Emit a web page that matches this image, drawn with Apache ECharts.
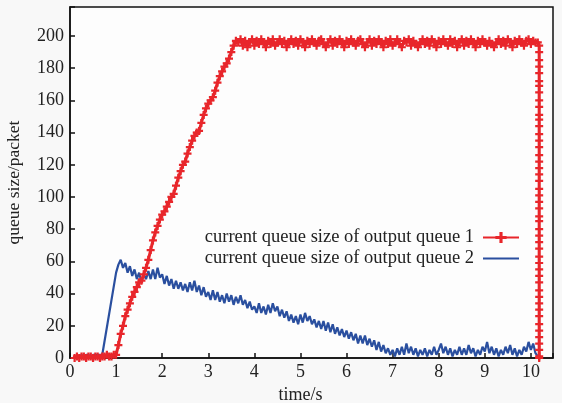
<!DOCTYPE html>
<html>
<head>
<meta charset="utf-8">
<script src="https://cdn.jsdelivr.net/npm/echarts@6/dist/echarts.min.js"></script>
<style>
  html, body { margin: 0; padding: 0; background: #f8f8f8; }
  #chart { width: 562px; height: 403px; }
</style>
</head>
<body>
<div id="chart"></div>
<script>
// sample times (s), shared by both queues
const timeS = [
  0.10, 0.15, 0.20, 0.25, 0.30, 0.35, 0.40, 0.45, 0.50, 0.55, 0.60, 0.65, 0.70, 0.75, 0.80, 0.85, 0.90, 0.95,
  1.00, 1.05, 1.10, 1.15, 1.20, 1.25, 1.30, 1.35, 1.40, 1.45, 1.50, 1.55, 1.60, 1.65, 1.70, 1.75, 1.80, 1.85, 1.90, 1.95,
  2.00, 2.05, 2.10, 2.15, 2.20, 2.25, 2.30, 2.35, 2.40, 2.45, 2.50, 2.55, 2.60, 2.65, 2.70, 2.75, 2.80, 2.85, 2.90, 2.95,
  3.00, 3.05, 3.10, 3.15, 3.20, 3.25, 3.30, 3.35, 3.40, 3.45, 3.50, 3.55, 3.60, 3.65, 3.70, 3.75, 3.80, 3.85, 3.90, 3.95,
  4.00, 4.05, 4.10, 4.15, 4.20, 4.25, 4.30, 4.35, 4.40, 4.45, 4.50, 4.55, 4.60, 4.65, 4.70, 4.75, 4.80, 4.85, 4.90, 4.95,
  5.00, 5.05, 5.10, 5.15, 5.20, 5.25, 5.30, 5.35, 5.40, 5.45, 5.50, 5.55, 5.60, 5.65, 5.70, 5.75, 5.80, 5.85, 5.90, 5.95,
  6.00, 6.05, 6.10, 6.15, 6.20, 6.25, 6.30, 6.35, 6.40, 6.45, 6.50, 6.55, 6.60, 6.65, 6.70, 6.75, 6.80, 6.85, 6.90, 6.95,
  7.00, 7.05, 7.10, 7.15, 7.20, 7.25, 7.30, 7.35, 7.40, 7.45, 7.50, 7.55, 7.60, 7.65, 7.70, 7.75, 7.80, 7.85, 7.90, 7.95,
  8.00, 8.05, 8.10, 8.15, 8.20, 8.25, 8.30, 8.35, 8.40, 8.45, 8.50, 8.55, 8.60, 8.65, 8.70, 8.75, 8.80, 8.85, 8.90, 8.95,
  9.00, 9.05, 9.10, 9.15, 9.20, 9.25, 9.30, 9.35, 9.40, 9.45, 9.50, 9.55, 9.60, 9.65, 9.70, 9.75, 9.80, 9.85, 9.90, 9.95,
  10.00, 10.05, 10.10, 10.15
];

// output queue 1 (packets)
const queue1Size = [
  0, 1, 0, 1, 1, 0, 1, 1, 0, 1, 1, 0, 1, 1, 2, 1, 1, 2,
  2, 8, 15, 20, 26, 30, 34, 38, 41, 44, 47, 48, 52, 56, 61, 67, 73, 78, 82, 86,
  89, 91, 94, 97, 100, 102, 107, 112, 116, 120, 122, 127, 131, 135, 138, 140, 141, 146, 151, 155,
  158, 160, 162, 166, 171, 175, 178, 181, 183, 186, 190, 194, 197, 196,
  198, 194, 197, 193, 196, 198,
  194, 197, 195, 198, 196, 193, 197, 195, 198, 194, 196, 198, 195, 197, 193, 196, 198, 195, 197, 194,
  198, 196, 193, 197, 195, 198, 196, 194, 197, 198, 195, 193, 196, 198, 194, 197, 195, 198, 196, 193,
  197, 195, 198, 196, 194, 197, 198, 195, 193, 196, 198, 194, 197, 195, 198, 196, 193, 197, 195, 198,
  194, 196, 198, 195, 193, 197, 196, 198, 194, 197, 195, 193, 196, 198, 195, 197, 194, 198, 196, 193,
  197, 195, 198, 196, 194, 198, 195, 197, 193, 196, 198, 194, 197, 195, 198, 196, 193, 197, 195, 198,
  196, 194, 197, 195, 193, 196, 198, 195, 197, 194, 198, 196, 193, 197, 195, 198, 196, 194, 197, 198,
  195, 197, 196, 196
];
// queue 1 drains at the end
const queue1DropTime = 10.18;
const queue1Drop = [
  194, 190, 185, 181, 177, 172, 169, 165, 160, 156, 151, 148, 144, 139, 135, 131, 126, 122, 118, 114,
  110, 105, 101, 97, 93, 88, 85, 80, 76, 72, 68, 63, 59, 55, 51, 47, 42, 38, 34, 30,
  26, 21, 17, 13, 9, 5, 1, 0
];

// output queue 2 (packets), null = no sample (straight ramp)
const queue2Size = [
  null, 1, 1, 2, 1, 2, 2, 1, 2, 2, 2, 2, 2, null, null, null, null, null,
  53, 58, 61, 56, 59, 53, 57, 51, 55, 49, 53, 47, 52, 49, 54, 49, 55, 49, 56, 50,
  52, 46, 51, 45, 49, 43, 48, 43, 47, 42, 46, 41, 47, 42, 48, 41, 45, 39, 44, 38,
  41, 36, 42, 36, 41, 35, 39, 34, 40, 35, 39, 33, 38, 34, 39, 33, 36, 31, 35, 30,
  32, 28, 34, 28, 32, 27, 33, 28, 34, 29, 32, 26, 30, 25, 29, 23, 27, 22, 26, 21,
  27, 22, 28, 23, 26, 21, 24, 19, 23, 18, 23, 17, 22, 16, 21, 15, 19, 14, 18, 13,
  17, 12, 16, 11, 15, 9, 14, 9, 14, 8, 12, 7, 11, 5, 10, 4, 8, 3, 6, 2,
  5, 1, 6, 2, 7, 2, 9, 3, 7, 2, 6, 1, 5, 2, 6, 1, 5, 2, 7, 2,
  5, 9, 3, 7, 2, 6, 1, 5, 2, 7, 2, 6, 2, 8, 3, 6, 1, 5, 2, 7,
  4, 10, 3, 7, 2, 6, 1, 5, 2, 7, 3, 8, 2, 6, 1, 5, 2, 7, 4, 10,
  5, 9, 3, 1
];

const seriesNames = ['current queue size of output queue 1', 'current queue size of output queue 2'];

const font = 'Liberation Serif';
const red = '#e8262b';
const blue = '#2a4f9f';
const plusPath = 'path://M3.6,0L6.4,0L6.4,3.6L10,3.6L10,6.4L6.4,6.4L6.4,10L3.6,10L3.6,6.4L0,6.4L0,3.6L3.6,3.6Z';

const q1Data = timeS.map((t, i) => [t, queue1Size[i]])
  .concat(queue1Drop.map(v => [queue1DropTime, v]));
const q2Data = timeS.map((t, i) => [t, queue2Size[i]]);

const chart = echarts.init(document.getElementById('chart'));
chart.setOption({
  backgroundColor: '#f8f8f8',
  animation: false,
  grid: {
    left: 70, right: 9, top: 7, bottom: 45,
    containLabel: false, outerBoundsMode: 'none',
    show: true, backgroundColor: '#fdfdfd', borderColor: '#111', borderWidth: 1.5
  },
  legend: {
    data: [
      { name: seriesNames[0] },
      { name: seriesNames[1], itemStyle: { opacity: 0 } }
    ],
    orient: 'vertical',
    right: 42,
    top: 228,
    padding: 0,
    align: 'right',
    itemWidth: 36,
    itemHeight: 14,
    itemGap: 2,
    textStyle: { fontFamily: font, fontSize: 18.5, lineHeight: 18, color: '#222', padding: [0, 4, 0, 0] }
  },
  xAxis: {
    type: 'value',
    min: 0, max: 10.48, interval: 1,
    name: 'time/s',
    nameLocation: 'middle',
    nameGap: 27,
    nameTextStyle: { fontFamily: font, fontSize: 18, color: '#222', padding: [0, 22, 0, 0] },
    axisLine: { lineStyle: { color: '#111', width: 1.5 } },
    axisTick: { inside: true, length: 5, lineStyle: { color: '#111', width: 1.5 } },
    axisLabel: {
      fontFamily: font, fontSize: 18, color: '#222', margin: 5,
      formatter: v => (Number.isInteger(v) ? String(v) : '')
    },
    splitLine: { show: false }
  },
  yAxis: {
    type: 'value',
    min: 0, max: 218, interval: 20,
    name: 'queue size/packet',
    nameLocation: 'middle',
    nameGap: 47,
    nameTextStyle: { fontFamily: font, fontSize: 17.5, color: '#222' },
    axisLine: { show: true, lineStyle: { color: '#111', width: 1.5 } },
    axisTick: { show: true, inside: true, length: 5, lineStyle: { color: '#111', width: 1.5 } },
    axisLabel: {
      fontFamily: font, fontSize: 18, color: '#222', margin: 6,
      formatter: v => (v % 20 === 0 ? String(v) : '')
    },
    splitLine: { show: false }
  },
  series: [
    {
      name: seriesNames[0],
      type: 'line',
      data: q1Data,
      symbol: plusPath,
      symbolSize: 8,
      showAllSymbol: true,
      itemStyle: { color: red },
      lineStyle: { color: red, width: 3 },
      z: 3
    },
    {
      name: seriesNames[1],
      type: 'line',
      data: q2Data,
      connectNulls: true,
      symbol: 'none',
      itemStyle: { color: blue },
      lineStyle: { color: blue, width: 2.2 },
      z: 2
    }
  ]
});
</script>
</body>
</html>
